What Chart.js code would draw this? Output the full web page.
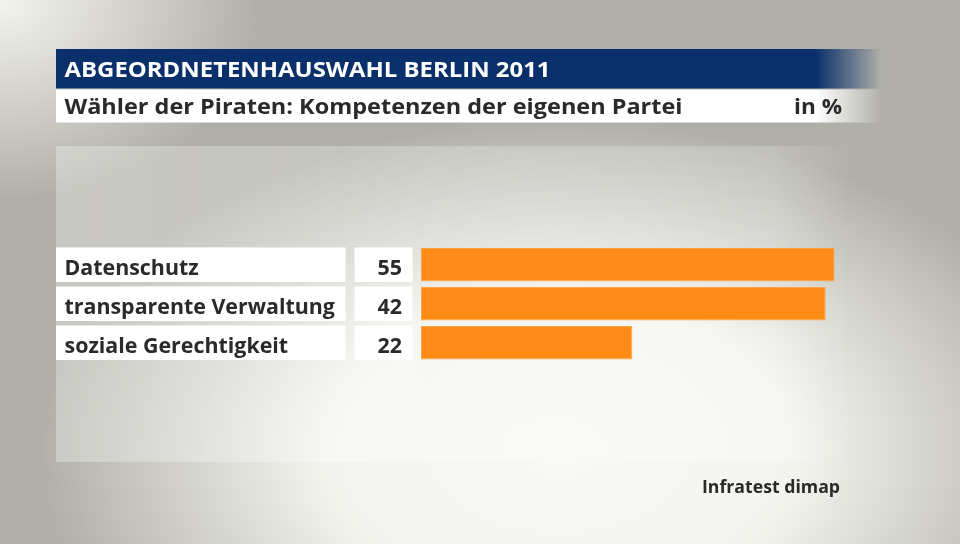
<!DOCTYPE html>
<html>
<head>
<meta charset="utf-8">
<script src="https://cdn.jsdelivr.net/npm/chart.js@4/dist/chart.umd.min.js"></script>
<style>
  html, body { margin: 0; padding: 0; background: #b1b0a8; }
  #wrap { width: 960px; height: 544px; position: relative; }
</style>
</head>
<body>
<div id="wrap"><canvas id="chart" width="960" height="544"></canvas></div>
<script>
const title = 'ABGEORDNETENHAUSWAHL BERLIN 2011'
const subtitle = 'Wähler der Piraten: Kompetenzen der eigenen Partei'
const unit = 'in %'
const source = 'Infratest dimap'

const categories = ['Datenschutz', 'transparente Verwaltung', 'soziale Gerechtigkeit']
const values = [55, 42, 22]
// bar lengths as drawn in the picture (same scale, 55 = full bar)
const barLengths = [55, 53.8, 28.1]

const textColor = '#2a2a2a'
const fontFamily = '"Open Sans", "Noto Sans", sans-serif'

// draw text squeezed/stretched to a measured width
function fitText (ctx, text, x, y, width, font, color, align) {
  ctx.save()
  ctx.font = font
  ctx.fillStyle = color
  ctx.textBaseline = 'alphabetic'
  ctx.textAlign = 'left'
  const w = ctx.measureText(text).width
  const sx = width ? width / w : 1
  const realW = w * sx
  const left = align === 'right' ? x - realW : x
  ctx.translate(left, y)
  ctx.scale(sx, 1)
  ctx.fillText(text, 0, 0)
  ctx.restore()
}

const decor = {
  id: 'decor',
  beforeDraw (chart) {
    const ctx = chart.ctx
    ctx.save()
    // background
    ctx.fillStyle = '#b1b0a8'
    ctx.fillRect(0, 0, 960, 544)
    let g = ctx.createRadialGradient(0, 0, 0, 0, 0, 1)
    ctx.save()
    ctx.translate(560, 450)
    ctx.scale(520, 330)
    g.addColorStop(0, 'rgba(248,248,244,1)')
    g.addColorStop(0.45, 'rgba(244,244,239,1)')
    g.addColorStop(1, 'rgba(244,244,239,0)')
    ctx.fillStyle = g
    ctx.fillRect(-2, -2, 4, 4)
    ctx.restore()
    ctx.save()
    ctx.scale(260, 200)
    g = ctx.createRadialGradient(0, 0, 0, 0, 0, 1)
    g.addColorStop(0, 'rgba(244,244,238,1)')
    g.addColorStop(1, 'rgba(244,244,238,0)')
    ctx.fillStyle = g
    ctx.fillRect(0, 0, 2, 2)
    ctx.restore()

    // plot panel
    g = ctx.createLinearGradient(56, 0, 850, 0)
    g.addColorStop(0, 'rgba(255,255,255,0.3)')
    g.addColorStop(0.9, 'rgba(255,255,255,0.2)')
    g.addColorStop(1, 'rgba(255,255,255,0)')
    ctx.fillStyle = g
    ctx.fillRect(56, 146, 794, 316)

    // title band
    g = ctx.createLinearGradient(56, 0, 882, 0)
    g.addColorStop(0, '#0a306b')
    g.addColorStop(0.92, '#0a306b')
    g.addColorStop(1, 'rgba(10,48,107,0)')
    ctx.fillStyle = g
    ctx.fillRect(56, 49, 826, 39.5)
    g = ctx.createLinearGradient(56, 0, 882, 0)
    g.addColorStop(0, '#ffffff')
    g.addColorStop(0.92, '#ffffff')
    g.addColorStop(1, 'rgba(255,255,255,0)')
    ctx.fillStyle = g
    ctx.fillRect(56, 89.5, 826, 33)
    ctx.restore()

    fitText(ctx, title, 64.5, 76.5, 486, 'bold 22px ' + fontFamily, '#ffffff')
    fitText(ctx, subtitle, 64.5, 114, 618, 'bold 22px ' + fontFamily, textColor)
    fitText(ctx, unit, 842, 114, 48, 'bold 22px ' + fontFamily, textColor, 'right')
    fitText(ctx, source, 840, 493, 138, 'bold 18px ' + fontFamily, textColor, 'right')

    // row label and value boxes
    const meta = chart.getDatasetMeta(0)
    meta.data.forEach((bar, i) => {
      const top = bar.y - bar.height / 2
      ctx.fillStyle = '#ffffff'
      ctx.fillRect(56, top - 0.5, 289.5, bar.height + 1)
      ctx.fillRect(354.5, top - 0.5, 58, bar.height + 1)
      const base = bar.y + 10.5
      fitText(ctx, categories[i], 64.5, base, 0, 'bold 21.4px ' + fontFamily, textColor)
      fitText(ctx, String(values[i]), 402, base, 0, 'bold 21.4px ' + fontFamily, textColor, 'right')
    })
  }
}

new Chart(document.getElementById('chart').getContext('2d'), {
  type: 'bar',
  data: {
    labels: categories,
    datasets: [{
      data: barLengths,
      backgroundColor: '#ff8c17',
      borderColor: '#ffa347',
      borderWidth: 1,
      borderSkipped: false,
      barPercentage: 0.86,
      categoryPercentage: 1
    }]
  },
  options: {
    indexAxis: 'y',
    responsive: false,
    animation: false,
    layout: { padding: { left: 421, right: 125.3, top: 245.2, bottom: 181.7 } },
    scales: {
      x: { display: false, min: 0, max: 55 },
      y: { display: false }
    },
    plugins: {
      legend: { display: false },
      tooltip: { enabled: false }
    }
  },
  plugins: [decor]
})
</script>
</body>
</html>
